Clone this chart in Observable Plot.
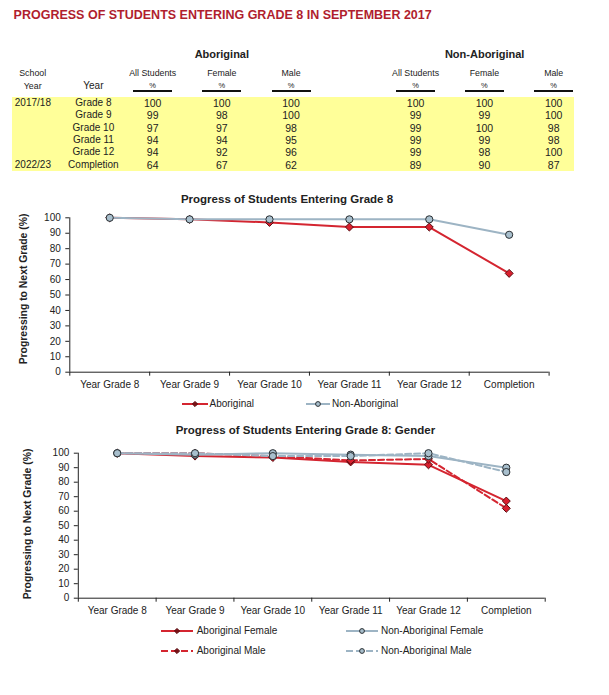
<!DOCTYPE html>
<html><head><meta charset="utf-8">
<script src="https://cdn.jsdelivr.net/npm/d3@7"></script>
<script src="https://cdn.jsdelivr.net/npm/@observablehq/plot@0.6"></script>
<style>
body{margin:0;background:#fff;}
#page{position:relative;width:609px;height:695px;font-family:"Liberation Sans",Arial,sans-serif;color:#222;overflow:hidden;}
.t{position:absolute;white-space:nowrap;line-height:1;transform:translate(-50%,-50%);}
.t.l{transform:translate(0,-50%);}
.t.rot{transform:translate(-50%,-50%) rotate(-90deg);}
.abs{position:absolute;}
</style></head><body><div id="page"></div>
<script>
// ---------- data ----------
const categories = ["Year Grade 8", "Year Grade 9", "Year Grade 10", "Year Grade 11", "Year Grade 12", "Completion"];
const rowLabels = ["Grade 8", "Grade 9", "Grade 10", "Grade 11", "Grade 12", "Completion"];
const schoolYears = ["2017/18", "", "", "", "", "2022/23"];
const groupHeaders = ["Aboriginal", "Non-Aboriginal"];
const columnHeaders = ["All Students", "Female", "Male", "All Students", "Female", "Male"];
const aboriginalAll = [100, 99, 97, 94, 94, 64];
const aboriginalFemale = [100, 98, 97, 94, 92, 67];
const aboriginalMale = [100, 100, 98, 95, 96, 62];
const nonAboriginalAll = [100, 99, 99, 99, 99, 89];
const nonAboriginalFemale = [100, 99, 100, 99, 98, 90];
const nonAboriginalMale = [100, 100, 98, 98, 100, 87];
const yTicks = [0, 10, 20, 30, 40, 50, 60, 70, 80, 90, 100];
const title = "PROGRESS OF STUDENTS ENTERING GRADE 8 IN SEPTEMBER 2017";
const chart1Title = "Progress of Students Entering Grade 8";
const chart2Title = "Progress of Students Entering Grade 8: Gender";
const yLabel = "Progressing to Next Grade (%)";

// ---------- styles ----------
const RED = "#d42530", BLUE = "#9db4c4", RED_MARK = "#d91f2e", BLUE_MARK = "#a8bfcd";
const RED_EDGE = "#5a0c10", BLUE_EDGE = "#2a2f33", TITLE_RED = "#b01e2e", AXIS = "#222";
const FONT = "'Liberation Sans', Arial, sans-serif";

const page = document.getElementById("page");
function txt(s, x, y, size, o = {}) {
  const d = document.createElement("div");
  d.className = "t" + (o.left ? " l" : "") + (o.rot ? " rot" : "");
  d.textContent = s;
  d.style.left = x + "px"; d.style.top = y + "px"; d.style.fontSize = size + "px";
  if (o.bold) d.style.fontWeight = "bold";
  if (o.color) d.style.color = o.color;
  page.appendChild(d);
  return d;
}
function rect(x, y, w, h, c) {
  const d = document.createElement("div");
  d.className = "abs";
  Object.assign(d.style, {left: x + "px", top: y + "px", width: w + "px", height: h + "px", background: c});
  page.appendChild(d);
}

// ---------- title + table ----------
txt(title, 13.6, 15, 12.5, {left: true, bold: true, color: TITLE_RED});
const colX = [152.7, 221.8, 291, 415.6, 484.4, 553.7];
const tableCols = [aboriginalAll, aboriginalFemale, aboriginalMale, nonAboriginalAll, nonAboriginalFemale, nonAboriginalMale];
txt(groupHeaders[0], (colX[0] + colX[2]) / 2, 54.3, 11, {bold: true});
txt(groupHeaders[1], (colX[3] + colX[5]) / 2, 54.3, 11, {bold: true});
txt("School", 32.7, 73.3, 8.8);
txt("Year", 32.7, 86, 8.8);
txt("Year", 93.4, 86, 10);
columnHeaders.forEach((h, j) => {
  txt(h, colX[j], 73.3, 8.8);
  txt("%", colX[j], 86, 7.5);
  rect(colX[j] - 19.5, 90, 39, 2, "#111");
});
const rowTop = 96.5, rowH = 12.4;
rect(11.7, rowTop, 574 - 11.7, rowH * rowLabels.length, "#ffff99");
rowLabels.forEach((r, i) => {
  const y = rowTop + rowH / 2 + rowH * i;
  if (schoolYears[i]) txt(schoolYears[i], 14.8, y, 10, {left: true});
  txt(r, 93.4, y, 10);
  tableCols.forEach((col, j) => txt(String(col[i]), colX[j], y, 10.5));
});

// ---------- charts ----------
function toRows(values) { return values.map((v, i) => ({i, category: categories[i], value: v})); }
const idx = categories.map((_, i) => i);
const bounds = d3.range(categories.length + 1).map(i => i - 0.5);

function chart(cfg) {
  const marks = [
    Plot.axisY({ticks: yTicks, tickSize: 4, tickPadding: 5, label: null}),
    Plot.axisX({ticks: bounds, tickSize: 4, tickFormat: () => "", label: null}),
    Plot.axisX({ticks: idx, tickSize: 0, tickPadding: 8.5, tickFormat: i => categories[i], label: null}),
    Plot.ruleX([bounds[0]], {stroke: AXIS}),
    Plot.ruleY([yTicks[0]], {stroke: AXIS})
  ];
  for (const s of cfg.series) {
    const data = toRows(s.values);
    marks.push(Plot.line(data, {x: "i", y: "value", stroke: s.color, strokeWidth: 2, strokeDasharray: s.dash || null}));
    marks.push(Plot.dot(data, {x: "i", y: "value", symbol: s.symbol, r: 3.6, fill: s.fill, stroke: s.edge, strokeWidth: 1}));
  }
  const svg = Plot.plot({
    width: 609, height: cfg.height,
    marginLeft: cfg.mL, marginRight: cfg.mR, marginTop: cfg.mT, marginBottom: cfg.mB,
    x: {type: "linear", domain: [bounds[0], bounds[bounds.length - 1]]},
    y: {domain: [yTicks[0], yTicks[yTicks.length - 1]]},
    style: {background: "transparent", fontFamily: FONT, fontSize: "10px", color: AXIS, overflow: "visible"},
    marks
  });
  const holder = document.createElement("div");
  holder.className = "abs";
  holder.style.left = "0px"; holder.style.top = cfg.top + "px";
  holder.appendChild(svg);
  page.appendChild(holder);
}

const ser = {
  aAll: {values: aboriginalAll, color: RED, symbol: "diamond2", fill: RED_MARK, edge: RED_EDGE},
  nAll: {values: nonAboriginalAll, color: BLUE, symbol: "circle", fill: BLUE_MARK, edge: BLUE_EDGE},
  aF: {values: aboriginalFemale, color: RED, symbol: "diamond2", fill: RED_MARK, edge: RED_EDGE},
  aM: {values: aboriginalMale, color: RED, symbol: "diamond2", fill: RED_MARK, edge: RED_EDGE, dash: "6,3"},
  nF: {values: nonAboriginalFemale, color: BLUE, symbol: "circle", fill: BLUE_MARK, edge: BLUE_EDGE},
  nM: {values: nonAboriginalMale, color: BLUE, symbol: "circle", fill: BLUE_MARK, edge: BLUE_EDGE, dash: "6,3"}
};

// chart 1
txt(chart1Title, 287, 200, 11.5, {bold: true});
txt(yLabel, 24, 289, 10.4, {bold: true, rot: true});
chart({top: 205, height: 190, mL: 69.3, mR: 609 - 548.6, mT: 12.3, mB: 23.3, series: [ser.aAll, ser.nAll]});

// chart 2
txt(chart2Title, 305.4, 431, 11.5, {bold: true});
txt(yLabel, 28, 523.5, 10.4, {bold: true, rot: true});
chart({top: 440, height: 180, mL: 77.8, mR: 609 - 544.7, mT: 12.7, mB: 22.3, series: [ser.aF, ser.aM, ser.nF, ser.nM]});

// ---------- legends ----------
function legend(label, s, x1, x2, y, textX) {
  const ns = "http://www.w3.org/2000/svg";
  const svg = document.createElementNS(ns, "svg");
  const w = x2 - x1 + 8;
  svg.setAttribute("width", w); svg.setAttribute("height", 12);
  svg.setAttribute("class", "abs");
  svg.style.left = (x1 - 4) + "px"; svg.style.top = (y - 6) + "px";
  const line = document.createElementNS(ns, "line");
  line.setAttribute("x1", 4); line.setAttribute("x2", w - 4);
  line.setAttribute("y1", 6); line.setAttribute("y2", 6);
  line.setAttribute("stroke", s.color); line.setAttribute("stroke-width", 2);
  if (s.dash) line.setAttribute("stroke-dasharray", "7,3");
  svg.appendChild(line);
  const cx = w / 2;
  let m;
  if (s.symbol === "circle") {
    m = document.createElementNS(ns, "circle");
    m.setAttribute("cx", cx); m.setAttribute("cy", 6); m.setAttribute("r", 2.4);
    m.setAttribute("fill", s.fill);
  } else {
    m = document.createElementNS(ns, "path");
    m.setAttribute("d", `M${cx},3.4L${cx + 2.6},6L${cx},8.6L${cx - 2.6},6Z`);
    m.setAttribute("fill", "#7a1015");
  }
  m.setAttribute("stroke", s.edge); m.setAttribute("stroke-width", 1);
  svg.appendChild(m);
  page.appendChild(svg);
  txt(label, textX, y, 10, {left: true});
}
legend("Aboriginal", ser.aAll, 182, 208, 404, 209.5);
legend("Non-Aboriginal", ser.nAll, 306, 330, 404, 332);
legend("Aboriginal Female", ser.aF, 161, 193, 630.7, 196.7);
legend("Aboriginal Male", ser.aM, 161, 193, 651, 196.7);
legend("Non-Aboriginal Female", ser.nF, 346, 378, 630.7, 381);
legend("Non-Aboriginal Male", ser.nM, 346, 378, 651, 381);
</script></body></html>
